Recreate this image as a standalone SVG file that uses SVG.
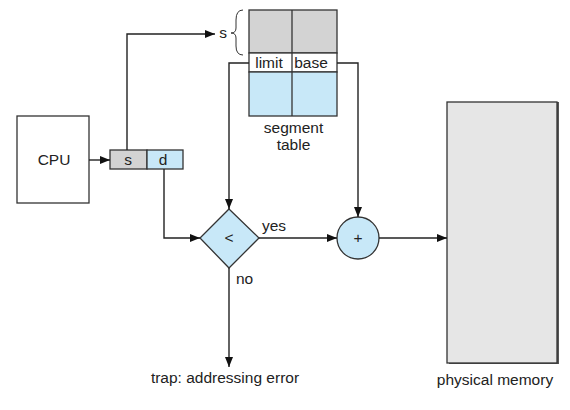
<svg xmlns="http://www.w3.org/2000/svg" width="570" height="410" viewBox="0 0 570 410">
<defs>
<marker id="ah" markerWidth="10" markerHeight="8" refX="10" refY="4" orient="auto" markerUnits="userSpaceOnUse">
<path d="M0,0 L10,4 L0,8 Z" fill="#111"/>
</marker>
</defs>
<style>
text{font-family:"Liberation Sans",Arial,sans-serif;font-size:15.5px;fill:#222}
.b{stroke:#333;stroke-width:1.3}
.c{fill:none;stroke:#222;stroke-width:1.4}
</style>
<rect width="570" height="410" fill="#fff"/>
<g id="cpu">
<rect x="17" y="116" width="72" height="87" fill="#fff" class="b"/>
<text x="54" y="165" text-anchor="middle" font-size="13.5">CPU</text>
</g>
<g id="address">
<rect x="110" y="150" width="37" height="19" fill="#d3d3d3" class="b"/>
<rect x="147" y="150" width="36" height="19" fill="#c8e8f8" class="b"/>
<text x="128" y="165" text-anchor="middle">s</text>
<text x="163" y="165" text-anchor="middle">d</text>
</g>
<g id="segment-table">
<rect x="249" y="10" width="88" height="43" fill="#d3d3d3" class="b"/>
<rect x="249" y="53" width="88" height="19" fill="#fff" class="b"/>
<rect x="249" y="72" width="88" height="44" fill="#c8e8f8" class="b"/>
<line x1="292" y1="10" x2="292" y2="116" class="b"/>
<text x="269" y="68" text-anchor="middle">limit</text>
<text x="311" y="68" text-anchor="middle">base</text>
<text x="293.5" y="133" text-anchor="middle">segment</text>
<text x="293.5" y="150" text-anchor="middle">table</text>
<path d="M243,10 Q236,10 236,20 L236,28 Q236,33 231,33 Q236,33 236,38 L236,46 Q236,55 243,55" fill="none" stroke="#333" stroke-width="1"/>
<text x="223" y="38" text-anchor="middle">s</text>
</g>
<g id="compare">
<polygon points="229,209 259,238 229,268 200,238" fill="#c8e8f8" class="b"/>
<text x="229" y="243" text-anchor="middle">&lt;</text>
</g>
<g id="adder">
<circle cx="358" cy="238" r="21" fill="#c8e8f8" class="b"/>
<text x="358" y="243" text-anchor="middle">+</text>
</g>
<g id="memory">
<rect x="449" y="102" width="110" height="262" fill="#555"/>
<rect x="447" y="102" width="110" height="261" fill="#e6e6e6" class="b"/>
<text x="495" y="385" text-anchor="middle">physical memory</text>
</g>
<g id="trap">
<text x="225" y="383" text-anchor="middle">trap: addressing error</text>
</g>
<g id="connectors">
<line x1="89" y1="160" x2="110" y2="160" class="c" marker-end="url(#ah)"/>
<polyline points="127,150 127,34 215,34" class="c" marker-end="url(#ah)"/>
<polyline points="249,63 229,63 229,209" class="c" marker-end="url(#ah)"/>
<polyline points="337,63 358,63 358,217" class="c" marker-end="url(#ah)"/>
<polyline points="164,169 164,238 200,238" class="c" marker-end="url(#ah)"/>
<line x1="259" y1="238" x2="337" y2="238" class="c" marker-end="url(#ah)"/>
<line x1="379" y1="238" x2="447" y2="238" class="c" marker-end="url(#ah)"/>
<line x1="229" y1="268" x2="229" y2="367" class="c" marker-end="url(#ah)"/>
<text x="262" y="231">yes</text>
<text x="236" y="284">no</text>
</g>
</svg>
